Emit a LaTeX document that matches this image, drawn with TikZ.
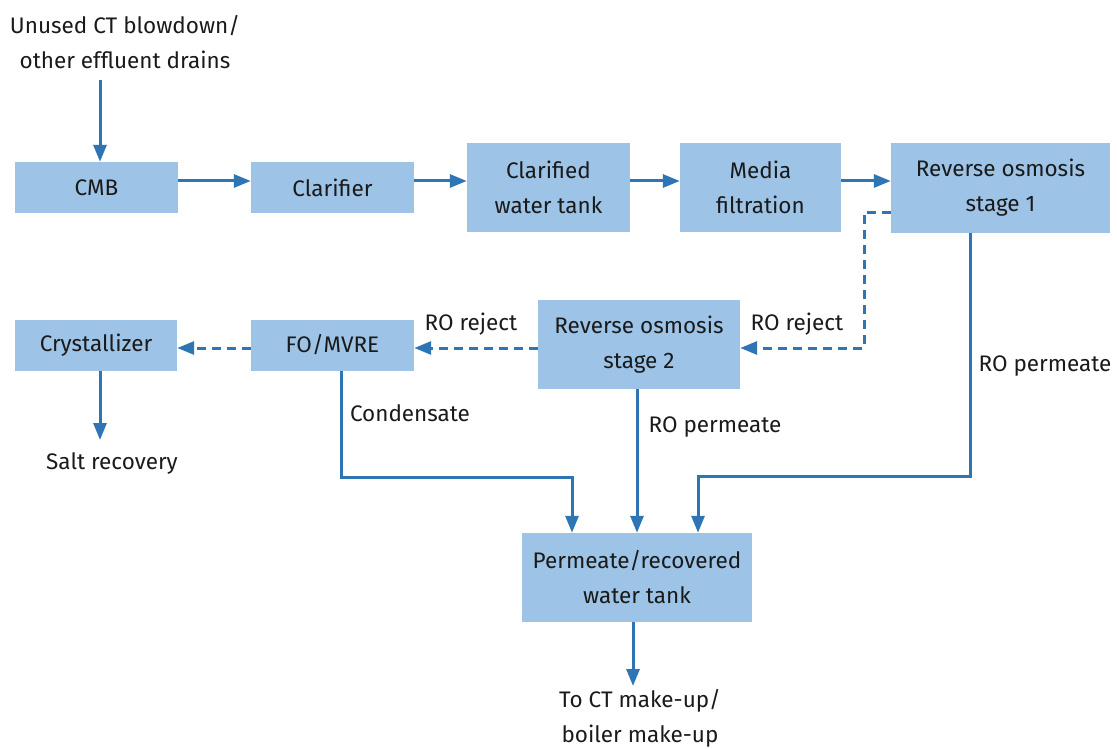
\documentclass[tikz,border=0pt]{standalone}
\usepackage{fontspec}
\setmainfont{Fira Sans}
\usetikzlibrary{arrows.meta}
\definecolor{boxfill}{HTML}{9DC3E6}
\definecolor{flow}{HTML}{2E75B6}
\definecolor{txt}{HTML}{1A1A1A}
\begin{document}
\begin{tikzpicture}[x=1pt,y=-1pt,
  every node/.style={font=\fontsize{22.5}{35}\selectfont, text=txt, align=center, inner sep=0pt},
  proc/.style={fill=boxfill, minimum height=#1},
  proc/.default=51,
  flowline/.style={draw=flow, line width=3pt, -{Triangle[length=17pt,width=13pt]}},
  dashline/.style={flowline, dash pattern=on 9pt off 6pt},
  lbl/.style={anchor=center}
]
\useasboundingbox (0,0) rectangle (1117,749);
% boxes
\node[proc, minimum width=163] (cmb) at (96.5,187.5) {CMB};
\node[proc, minimum width=163] (clar) at (332.5,187.5) {Clarifier};
\node[proc=89, minimum width=163] (cwt) at (548.5,187.5) {Clarified\\water tank};
\node[proc=89, minimum width=161] (mf) at (760.5,187.5) {Media\\filtration};
\node[proc=89, minimum width=219] (ro1) at (1000.5,188) {Reverse osmosis\\stage 1};
\node[proc, minimum width=162] (cry) at (96,345) {Crystallizer};
\node[proc, minimum width=163] (fo) at (332.5,345) {FO/MVRE};
\node[proc=89, minimum width=202] (ro2) at (639,344.5) {Reverse osmosis\\stage 2};
\node[proc=89, minimum width=230] (tank) at (637,577.5) {Permeate/recovered\\water tank};
% free texts
\node (src) at (125,42) {Unused CT blowdown/\\other effluent drains};
\node (salt) at (112,463) {Salt recovery};
\node (out) at (640,718) {To CT make-up/\\boiler make-up};
% coordinates
\coordinate (srcend) at (100,80);
\coordinate (saltend) at (100,440);
\coordinate (outend) at (633,686);
% top row
\draw[flowline] (srcend) -- (srcend |- cmb.north);
\draw[flowline] (cmb.east |- 0,181) -- (clar.west |- 0,181);
\draw[flowline] (clar.east |- 0,181) -- (cwt.west |- 0,181);
\draw[flowline] (cwt.east |- 0,181) -- (mf.west |- 0,181);
\draw[flowline] (mf.east |- 0,181) -- (ro1.west |- 0,181);
% rejects
\draw[dashline] (ro1.west |- 0,212) -| (864,348) -- (ro2.east |- 0,348);
\draw[dashline] (ro2.west |- 0,348) -- (fo.east |- 0,348);
\draw[dashline] (fo.west |- 0,348) -- (cry.east |- 0,348);
\node[lbl] (rj1) at (797,324) {RO reject};
\node[lbl] (rj2) at (471,324) {RO reject};
% crystallizer
\draw[flowline] (saltend |- cry.south) -- (saltend);
% permeates
\draw[flowline] (ro1.south -| 970,0) |- (698,476) -- (698,0 |- tank.north);
\node[lbl] (p1) at (1045,366) {RO permeate};
\draw[flowline] (ro2.south -| 637,0) -- (637,0 |- tank.north);
\node[lbl] (p2) at (715,427) {RO permeate};
\draw[flowline] (fo.south -| 341,0) |- (572,477) -- (572,0 |- tank.north);
\node[lbl] (cond) at (410,413) {Condensate};
% output
\draw[flowline] (tank.south -| outend) -- (outend);
\end{tikzpicture}
\end{document}
